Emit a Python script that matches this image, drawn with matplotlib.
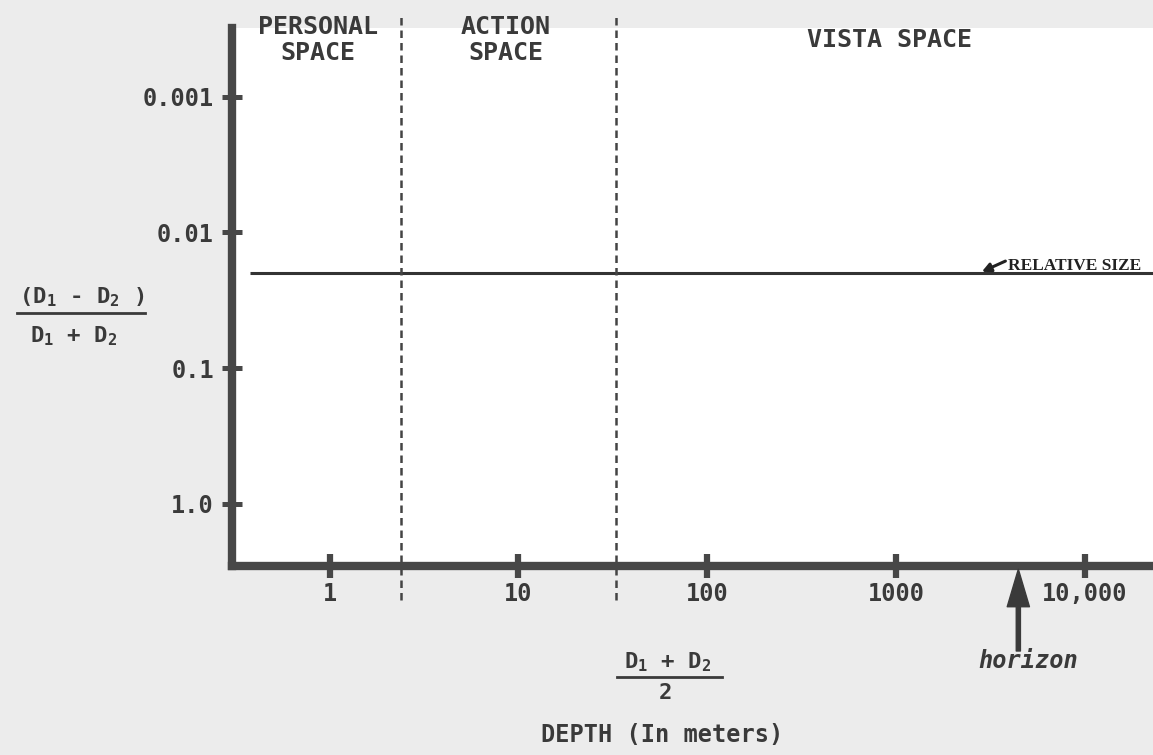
import matplotlib
matplotlib.use('Agg')
import matplotlib.pyplot as plt
from matplotlib.ticker import NullLocator
import matplotlib.transforms as mtransforms

# depth cue chart, relative size only
x_ticks = [1, 10, 100, 1000, 10000]
x_tick_labels = ['1', '10', '100', '1000', '10,000']
y_ticks = [0.001, 0.01, 0.1, 1.0]
y_tick_labels = ['0.001', '0.01', '0.1', '1.0']

relative_size_depth = [0.38, 30000]
relative_size_threshold = [0.02, 0.02]

space_bounds = [2.4, 33]          # personal/action, action/vista
space_names = [['PERSONAL', 'SPACE'], ['ACTION', 'SPACE'], ['VISTA SPACE']]
space_label_x = [0.87, 8.6, 930]
horizon_depth = 4450

ink = '#3a3a3a'
W, H = 1153, 755

plt.rcParams['mathtext.fontset'] = 'custom'
plt.rcParams['mathtext.rm'] = 'DejaVu Sans Mono:bold'
plt.rcParams['mathtext.it'] = 'DejaVu Sans Mono:bold'
plt.rcParams['mathtext.bf'] = 'DejaVu Sans Mono:bold'
mono = dict(family='DejaVu Sans Mono', fontweight='bold', color=ink)

fig = plt.figure(figsize=(W / 100, H / 100), dpi=100, facecolor='#ececec')
ax = fig.add_axes([232 / W, 1 - 566 / H, 1 - 232 / W, (566 - 28) / H])
ax.set_facecolor('white')

ax.set_xscale('log')
ax.set_yscale('log')
ax.set_xlim(0.304, 23000)
ax.set_ylim(2.89, 3.1e-4)   # inverted, small thresholds on top

ax.plot(relative_size_depth, relative_size_threshold, color='#333333', lw=2.2,
        solid_capstyle='butt')

for b in space_bounds:
    ax.axvline(b, ymin=-0.063, ymax=1.02, color='#444444', lw=1.8,
               linestyle=(0, (3, 2)), clip_on=False)

# spines / ticks
for s in ['top', 'right']:
    ax.spines[s].set_visible(False)
for s in ['left', 'bottom']:
    ax.spines[s].set_linewidth(6)
    ax.spines[s].set_color('#474747')

ax.set_xticks(x_ticks)
ax.set_xticklabels(x_tick_labels)
ax.set_yticks(y_ticks)
ax.set_yticklabels(y_tick_labels)
ax.xaxis.set_minor_locator(NullLocator())
ax.yaxis.set_minor_locator(NullLocator())
ax.tick_params(axis='x', direction='inout', length=17, width=4.5, color='#474747',
               pad=3, labelsize=17, labelcolor=ink)
ax.tick_params(axis='y', direction='inout', length=14, width=3.6, color='#474747',
               pad=6, labelsize=17, labelcolor=ink)
for lab in ax.get_xticklabels() + ax.get_yticklabels():
    lab.set_family('DejaVu Sans Mono')
    lab.set_fontweight('bold')

# region names
blend = mtransforms.blended_transform_factory(ax.transData, ax.transAxes)
for names, xv in zip(space_names, space_label_x):
    if len(names) == 2:
        ax.text(xv, 1.001, names[0], transform=blend, ha='center', va='center', fontsize=18, **mono)
        ax.text(xv, 0.954, names[1], transform=blend, ha='center', va='center', fontsize=18, **mono)
    else:
        ax.text(xv, 0.978, names[0], transform=blend, ha='center', va='center', fontsize=18, **mono)

# relative size label
ax.annotate('RELATIVE SIZE', xy=(2850, 0.0195), xytext=(19, 4), textcoords='offset points',
            ha='left', va='center', fontsize=12.5, family='Liberation Serif',
            fontweight='bold', color='#222222',
            arrowprops=dict(arrowstyle='-|>', lw=2.2, color='#222222', mutation_scale=13,
                            shrinkA=0, shrinkB=0, relpos=(0, 0.9)))

# horizon arrow
ax.annotate('', xy=(horizon_depth, -0.006), xytext=(horizon_depth, -0.158),
            xycoords=blend, textcoords=blend, annotation_clip=False,
            arrowprops=dict(facecolor=ink, edgecolor=ink, width=3, headwidth=16,
                            headlength=27, shrink=0))
ax.text(horizon_depth * 1.13, -0.177, 'horizon', transform=blend, ha='center', va='center',
        fontsize=17, family='DejaVu Sans Mono', fontweight='bold', fontstyle='italic',
        color=ink)


def px(x, y):
    return x / W, 1 - y / H


# y axis label as a fraction
fig.text(*px(82, 297), '(D$_1$ - D$_2$ )', ha='center', va='center', fontsize=16, **mono)
fig.add_artist(plt.Line2D([17 / W, 145 / W], [1 - 313 / H] * 2, color=ink, lw=2))
fig.text(*px(74, 336), 'D$_1$ + D$_2$', ha='center', va='center', fontsize=16, **mono)

# x axis label
fig.text(*px(668, 662), 'D$_1$ + D$_2$', ha='center', va='center', fontsize=16, **mono)
fig.add_artist(plt.Line2D([617 / W, 722 / W], [1 - 677 / H] * 2, color=ink, lw=2))
fig.text(*px(665, 693), '2', ha='center', va='center', fontsize=16, **mono)
fig.text(*px(662, 735), 'DEPTH (In meters)', ha='center', va='center', fontsize=17, **mono)

fig.savefig('out.png', dpi=100, facecolor=fig.get_facecolor())
